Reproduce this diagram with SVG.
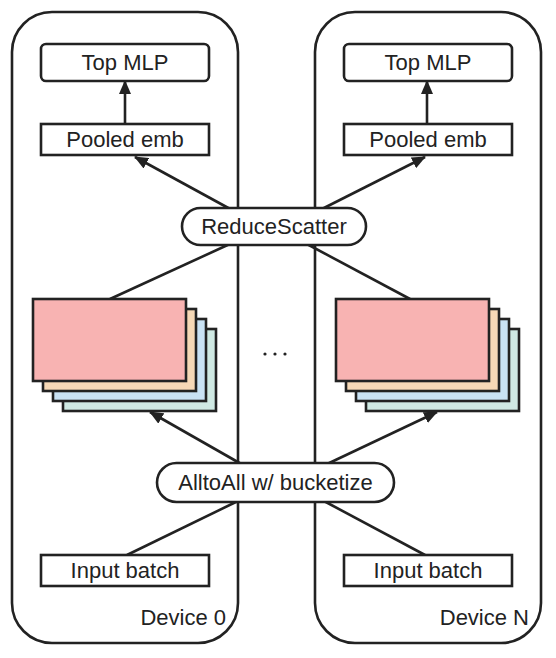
<svg xmlns="http://www.w3.org/2000/svg" width="556" height="658" viewBox="0 0 556 658">
<defs>
<style>
.dev{fill:none;stroke:#222;stroke-width:2.6}
.box{fill:#fff;stroke:#222;stroke-width:2.6}
.pill{fill:#fff;stroke:#222;stroke-width:2.6}
.ln{stroke:#222;stroke-width:2.6;fill:none}
.t{font-family:"Liberation Sans",Arial,sans-serif;font-size:22px;fill:#222;text-anchor:middle}
.lbl{font-family:"Liberation Sans",Arial,sans-serif;font-size:22px;fill:#222;text-anchor:end}
.e{stroke:#222;stroke-width:2.6}
</style>
<marker id="ah" viewBox="0 0 14 12" refX="13" refY="6" markerWidth="14" markerHeight="12" markerUnits="userSpaceOnUse" orient="auto">
<path d="M0,0 L14,6 L0,12 Z" fill="#222"/>
</marker>
</defs>
<rect width="556" height="658" fill="#fff"/>
<g id="device0">
<rect class="dev" x="12" y="12" width="226" height="631" rx="40"/>
<text class="lbl" x="226" y="625">Device 0</text>
</g>
<g id="deviceN">
<rect class="dev" x="315" y="12" width="226" height="631" rx="40"/>
<text class="lbl" x="529" y="625">Device N</text>
</g>
<g id="connectors">
<line class="ln" x1="125" y1="124" x2="125" y2="81" marker-end="url(#ah)"/>
<line class="ln" x1="427" y1="124" x2="427" y2="81" marker-end="url(#ah)"/>
<line class="ln" x1="232" y1="210" x2="135" y2="157" marker-end="url(#ah)"/>
<line class="ln" x1="320" y1="210" x2="425" y2="157" marker-end="url(#ah)"/>
<line class="ln" x1="232" y1="243" x2="110" y2="299"/>
<line class="ln" x1="305" y1="243" x2="410" y2="299"/>
<line class="ln" x1="243" y1="465" x2="150" y2="412" marker-end="url(#ah)"/>
<line class="ln" x1="325" y1="465" x2="437" y2="412" marker-end="url(#ah)"/>
<line class="ln" x1="240" y1="500" x2="127" y2="555"/>
<line class="ln" x1="322" y1="500" x2="425" y2="555"/>
</g>
<g id="topmlp0">
<rect class="box" x="41" y="44" width="168" height="37" rx="5"/>
<text class="t" x="125" y="70">Top MLP</text>
</g>
<g id="topmlpN">
<rect class="box" x="344" y="44" width="168" height="37" rx="5"/>
<text class="t" x="428" y="70">Top MLP</text>
</g>
<g id="pooled0">
<rect class="box" x="41" y="124" width="168" height="31"/>
<text class="t" x="125" y="147">Pooled emb</text>
</g>
<g id="pooledN">
<rect class="box" x="344" y="124" width="168" height="31"/>
<text class="t" x="428" y="147">Pooled emb</text>
</g>
<g id="reducescatter">
<rect class="pill" x="182" y="208" width="184" height="37" rx="18.5"/>
<text class="t" x="274" y="234">ReduceScatter</text>
</g>
<g id="emb0">
<rect class="e" x="63" y="329" width="153" height="82" fill="#cfe9e3"/>
<rect class="e" x="53" y="319" width="153" height="82" fill="#c9e2f4"/>
<rect class="e" x="43" y="309" width="153" height="82" fill="#f6d8b6"/>
<rect class="e" x="33" y="299" width="153" height="82" fill="#f8b3b2"/>
</g>
<g id="embN">
<rect class="e" x="366" y="329" width="153" height="82" fill="#cfe9e3"/>
<rect class="e" x="356" y="319" width="153" height="82" fill="#c9e2f4"/>
<rect class="e" x="346" y="309" width="153" height="82" fill="#f6d8b6"/>
<rect class="e" x="336" y="299" width="153" height="82" fill="#f8b3b2"/>
</g>
<g id="ellipsis">
<circle cx="265" cy="354" r="1.6" fill="#222"/>
<circle cx="275" cy="354" r="1.6" fill="#222"/>
<circle cx="285" cy="354" r="1.6" fill="#222"/>
</g>
<g id="alltoall">
<rect class="pill" x="157" y="463" width="237" height="39" rx="19.5"/>
<text class="t" x="275.5" y="490">AlltoAll w/ bucketize</text>
</g>
<g id="input0">
<rect class="box" x="41" y="555" width="168" height="31"/>
<text class="t" x="125" y="578">Input batch</text>
</g>
<g id="inputN">
<rect class="box" x="344" y="555" width="168" height="31"/>
<text class="t" x="428" y="578">Input batch</text>
</g>
</svg>
